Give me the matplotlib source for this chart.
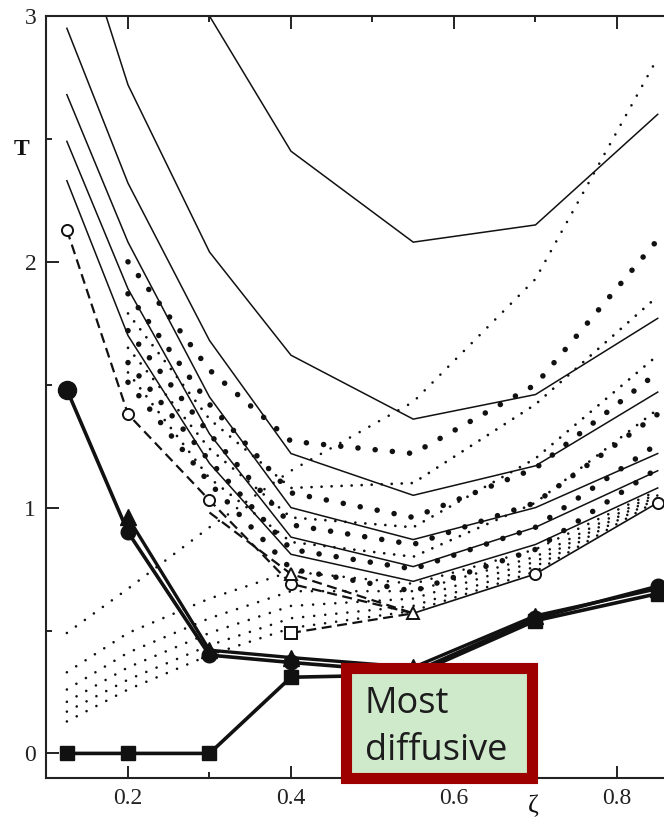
import numpy as np
import matplotlib
matplotlib.use("Agg")
import matplotlib.pyplot as plt
from matplotlib.patches import Rectangle
from matplotlib.ticker import FixedLocator, MultipleLocator, FormatStrFormatter

nan = np.nan

# state points along the zeta axis
zeta = [0.125, 0.2, 0.3, 0.4, 0.55, 0.7, 0.85]

# thin solid isolines
solid_curves = [
    [nan, nan, 3.00, 2.45, 2.08, 2.15, 2.60],
    [3.50, 2.72, 2.04, 1.62, 1.36, 1.46, 1.77],
    [2.95, 2.32, 1.68, 1.22, 1.05, 1.17, 1.47],
    [2.68, 2.08, 1.45, 1.00, 0.87, 1.00, 1.22],
    [2.49, 1.89, 1.30, 0.88, 0.76, 0.92, 1.15],
    [2.33, 1.70, 1.18, 0.81, 0.70, 0.85, 1.08],
]

# heavy-dot isolines
bigdot_curves = [
    [nan, 2.00, 1.56, 1.27, 1.22, 1.50, 2.09],
    [nan, 1.87, 1.42, 1.06, 0.96, 1.16, 1.55],
    [nan, 1.72, 1.30, 0.93, 0.85, 1.02, 1.38],
    [nan, 1.59, 1.19, 0.83, 0.75, 0.92, 1.26],
    [nan, 1.51, 1.10, 0.75, 0.66, 0.83, 1.16],
]

# fine-dot isolines
finedot_curves = [
    [nan, 1.79, 1.36, 1.08, 1.10, 1.42, 1.86],
    [nan, 1.65, 1.24, 0.96, 0.92, 1.20, 1.62],
    [nan, 1.55, 1.12, 0.86, 0.80, 1.02, 1.40],
]

# low-temperature fan of fine-dot lines
fan_curves = [
    [0.49, 0.67, 0.92, 1.15, 1.43, 1.93, 2.83],
    [0.33, 0.49, 0.63, 0.74, 0.69, 0.83, 1.07],
    [0.26, 0.41, 0.55, 0.66, 0.66, 0.80, 1.06],
    [0.21, 0.35, 0.49, 0.60, 0.63, 0.78, 1.05],
    [0.17, 0.30, 0.44, 0.55, 0.60, 0.76, 1.04],
    [0.13, 0.26, 0.40, 0.51, 0.58, 0.74, 1.03],
]

# open-symbol boundaries
open_circles = [2.13, 1.38, 1.03, 0.69, 0.57, 0.73, 1.02]
open_triangles = [nan, nan, 0.98, 0.73, 0.57, nan, nan]
open_squares = [nan, nan, nan, 0.49, 0.57, nan, nan]

# filled-symbol boundaries
filled_circles = [1.48, 0.90, 0.40, 0.37, 0.33, 0.55, 0.68]
filled_triangles = [nan, 0.96, 0.42, 0.39, 0.35, 0.56, 0.67]
filled_squares = [0.00, 0.00, 0.00, 0.31, 0.32, 0.54, 0.65]

x_major = [0.2, 0.4, 0.6, 0.8]
y_major = [0, 1, 2, 3]

W, H = 664, 819
fig = plt.figure(figsize=(W / 100, H / 100), dpi=100)
ax = fig.add_axes([46 / W, 1 - 778 / H, (W - 46) / W, (778 - 16) / H])

ink = "#111111"
zeta_arr = np.array(zeta)

for c in solid_curves:
    ax.plot(zeta_arr, c, color=ink, lw=1.1, solid_joinstyle="miter")

for c in bigdot_curves:
    ax.plot(zeta_arr, c, color=ink, lw=4.0, linestyle=(0, (0.01, 3.1)),
            dash_capstyle="round")

for c in finedot_curves:
    ax.plot(zeta_arr, c, color=ink, lw=2.0, linestyle=(0, (0.01, 3.6)),
            dash_capstyle="round")

for c in fan_curves:
    ax.plot(zeta_arr, c, color=ink, lw=1.9, linestyle=(0, (0.01, 4.2)),
            dash_capstyle="round")

# open circles: dashed on the left branch, solid on the right branch
oc = np.array(open_circles)
ax.plot(zeta_arr[:5], oc[:5], color=ink, lw=1.6, linestyle=(0, (4.5, 2.5)))
ax.plot(zeta_arr[4:], oc[4:], color=ink, lw=1.2)
ax.plot(zeta_arr, oc, linestyle="none", marker="o", ms=8, mfc="white",
        mec=ink, mew=1.4, markevery=[0, 1, 2, 3, 5, 6])

ax.plot(zeta_arr, open_triangles, color=ink, lw=1.6,
        linestyle=(0, (4.5, 2.5)), marker="^", ms=9, mfc="white", mec=ink,
        mew=1.4, markevery=[3, 4])
ax.plot(zeta_arr, open_squares, color=ink, lw=1.6,
        linestyle=(0, (4.5, 2.5)), marker="s", ms=9, mfc="white", mec=ink,
        mew=1.4, markevery=[3])

ax.plot(zeta_arr, filled_triangles, color=ink, lw=2.4, marker="^", ms=11,
        mfc=ink, mec=ink)
ax.plot(zeta_arr, filled_circles, color=ink, lw=2.6, marker="o", ms=10.5,
        mfc=ink, mec=ink, markevery=[1, 2, 3, 4, 5, 6])
ax.plot(zeta_arr, filled_circles, linestyle="none", marker="o", ms=13,
        mfc=ink, mec=ink, markevery=[0])
ax.plot(zeta_arr, filled_squares, color=ink, lw=2.6, marker="s", ms=9.5,
        mfc=ink, mec=ink)

ax.set_xlim(0.0994, 0.8577)
ax.set_ylim(-0.1, 3.0)

ax.xaxis.set_major_locator(FixedLocator(x_major))
ax.xaxis.set_minor_locator(MultipleLocator(0.1))
ax.yaxis.set_major_locator(FixedLocator(y_major))
ax.yaxis.set_minor_locator(MultipleLocator(0.5))
ax.xaxis.set_major_formatter(FormatStrFormatter("%.1f"))
ax.yaxis.set_major_formatter(FormatStrFormatter("%d"))

ax.tick_params(which="both", direction="in", top=True, right=False,
               colors=ink, width=1.3)
ax.tick_params(which="major", length=9, labelsize=17, pad=7)
ax.tick_params(which="minor", length=4.5)
for lab in ax.get_xticklabels() + ax.get_yticklabels():
    lab.set_family("Liberation Serif")
    lab.set_color("#222222")

for side in ("left", "top", "bottom"):
    ax.spines[side].set_linewidth(1.5)
    ax.spines[side].set_color("#222222")
ax.spines["right"].set_visible(False)

ax.set_xlabel("ζ", family="Liberation Serif", fontsize=19, color=ink)
ax.xaxis.set_label_coords((533 - 46) / (W - 46), -0.022)
ax.set_ylabel("T", family="Liberation Serif", fontsize=17, color=ink,
              rotation=0, fontweight="bold")
ax.yaxis.set_label_coords((22 - 46) / (W - 46), (778 - 160) / (778 - 16))

# callout box
box = Rectangle((346 / W, 1 - 778 / H), (532 - 346) / W, (778 - 667.5) / H,
                transform=fig.transFigure, facecolor="#cfeacb",
                edgecolor="#9e0000", linewidth=8, joinstyle="miter",
                zorder=5)
fig.add_artist(box)
fig.text(365 / W, 1 - 713 / H, "Most", family="Open Sans", fontsize=26,
         color="#1c1c1c", va="baseline", ha="left", zorder=6)
fig.text(365 / W, 1 - 760 / H, "diffusive", family="Open Sans", fontsize=26,
         color="#1c1c1c", va="baseline", ha="left", zorder=6)

fig.savefig("out.png", dpi=100, facecolor="white")
